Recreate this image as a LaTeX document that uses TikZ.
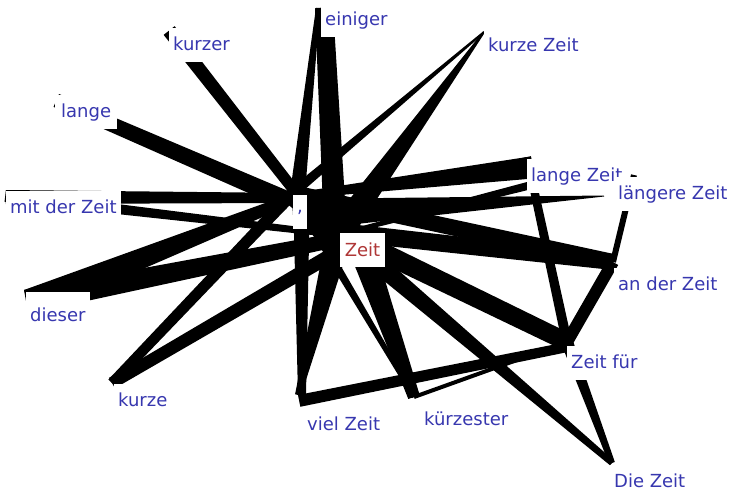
\documentclass[tikz,border=0pt]{standalone}
\usepackage{fontspec}
\setmainfont{DejaVu Sans}
\usetikzlibrary{calc}
\definecolor{lblue}{RGB}{55,55,175}
\definecolor{lred}{RGB}{175,55,55}
% tapered edge: from #1 to #2, offsets at #1 (left, right), at #2 (left, right)
\newcommand\tedge[6]{\fill[black] ($(#1)!#3!90:(#2)$) -- ($(#2)!#5!-90:(#1)$) -- ($(#2)!#6!90:(#1)$) -- ($(#1)!#4!-90:(#2)$) -- cycle;}
\begin{document}
\begin{tikzpicture}[x=1pt,y=-1pt,
  lbl/.style={fill=white, text=lblue, font=\fontsize{18}{20}\selectfont, inner xsep=4pt, inner ysep=8pt, text height=14pt, text depth=4pt, anchor=base west},
  hub/.style={fill=white, font=\fontsize{18}{20}\selectfont, inner sep=0pt}]
\useasboundingbox[fill=white] (0,0) rectangle (732,490);
% anchors
\coordinate (C) at (293,193);
\coordinate (Cl) at (293,215);
\coordinate (Z) at (340,232);
\coordinate (Zl) at (340,250);
\coordinate (Zc) at (362,249);
\coordinate (ein) at (318,8);
\coordinate (kz) at (484,32);
\coordinate (kzr) at (166,33);
\coordinate (lan) at (59,94);
\coordinate (mdz) at (6,190);
\coordinate (die) at (24,290);
\coordinate (kur) at (112,383);
\coordinate (vz) at (298,395);
\coordinate (kst) at (414,397);
\coordinate (zf) at (567,342);
\coordinate (dz) at (612,463);
\coordinate (adz) at (613,262);
\coordinate (lgz) at (604,196);
\coordinate (lgzT) at (634,175);
\coordinate (lz) at (527,157);
\coordinate (lzb) at (527,182);
% edges
\tedge{ein}{C}{2pt}{2pt}{12pt}{3pt}
\tedge{ein}{Z}{15pt}{3pt}{7pt}{16pt}
\tedge{kz}{C}{1pt}{1pt}{5pt}{5pt}
\tedge{kz}{Z}{1pt}{1pt}{13pt}{13pt}
\tedge{kzr}{C}{11pt}{3pt}{8pt}{3pt}
\tedge{lan}{C}{0pt}{14pt}{0pt}{18pt}
\tedge{mdz}{C}{0pt}{14pt}{0pt}{10pt}
\tedge{mdz}{Z}{0pt}{12pt}{0pt}{6pt}
\tedge{die}{C}{0pt}{28pt}{0pt}{10pt}
\tedge{die}{Z}{0pt}{24pt}{0pt}{14pt}
\tedge{kur}{C}{5pt}{5pt}{6pt}{6pt}
\tedge{kur}{Zl}{6pt}{6pt}{7pt}{7pt}
\tedge{vz}{C}{0pt}{8pt}{0pt}{17pt}
\tedge{vz}{Z}{3pt}{3pt}{13pt}{13pt}
\tedge{vz}{zf}{0pt}{12pt}{0pt}{10pt}
\tedge{kst}{C}{2pt}{2pt}{5pt}{5pt}
\tedge{kst}{Zc}{6pt}{6pt}{13pt}{13pt}
\tedge{kst}{zf}{2pt}{2pt}{2pt}{2pt}
\tedge{Z}{zf}{10pt}{10pt}{9pt}{9pt}
\tedge{Z}{dz}{10pt}{10pt}{3pt}{3pt}
\tedge{zf}{dz}{6pt}{6pt}{3pt}{3pt}
\tedge{zf}{adz}{6pt}{6pt}{6pt}{6pt}
\tedge{zf}{lz}{5pt}{5pt}{4pt}{4pt}
\tedge{adz}{C}{8pt}{8pt}{8pt}{8pt}
\tedge{Z}{adz}{9pt}{9pt}{8pt}{8pt}
\tedge{adz}{lgzT}{3pt}{3pt}{3pt}{3pt}
\tedge{lgz}{Cl}{0.5pt}{0.5pt}{16pt}{16pt}
\tedge{lz}{C}{22pt}{0pt}{6pt}{0pt}
\tedge{lzb}{Z}{8pt}{0pt}{4pt}{0pt}
\tedge{C}{Z}{12pt}{12pt}{12pt}{12pt}
% labels
\node[lbl] (n-ein) at (321,25) {einiger};
\node[lbl] (n-kz) at (484,51) {kurze Zeit};
\node[lbl] (n-kzr) at (169,50) {kurzer};
\node[lbl, inner xsep=6pt] (n-lan) at (55,117) {lange};
\node[lbl] (n-mdz) at (6,213) {mit der Zeit};
\node[lbl] (n-lz) at (527,181) {lange Zeit};
\node[lbl] (n-lgz) at (614,199) {längere Zeit};
\node[lbl] (n-adz) at (614,290) {an der Zeit};
\node[lbl] (n-zf) at (567,368) {Zeit für};
\node[lbl] (n-dz) at (610,487) {Die Zeit};
\node[lbl] (n-kst) at (420,425) {kürzester};
\node[lbl] (n-vz) at (303,430) {viel Zeit};
\node[lbl] (n-kur) at (114,406) {kurze};
\node[lbl, inner ysep=15pt] (n-die) at (26,321) {dieser};
% hubs
\node[hub, minimum width=14pt, minimum height=34pt, text=lblue] (n-C) at (300,212) {,};
\node[hub, minimum width=45pt, minimum height=34pt, text=lred] (n-Z) at (362.5,250) {Zeit};
\end{tikzpicture}
\end{document}
